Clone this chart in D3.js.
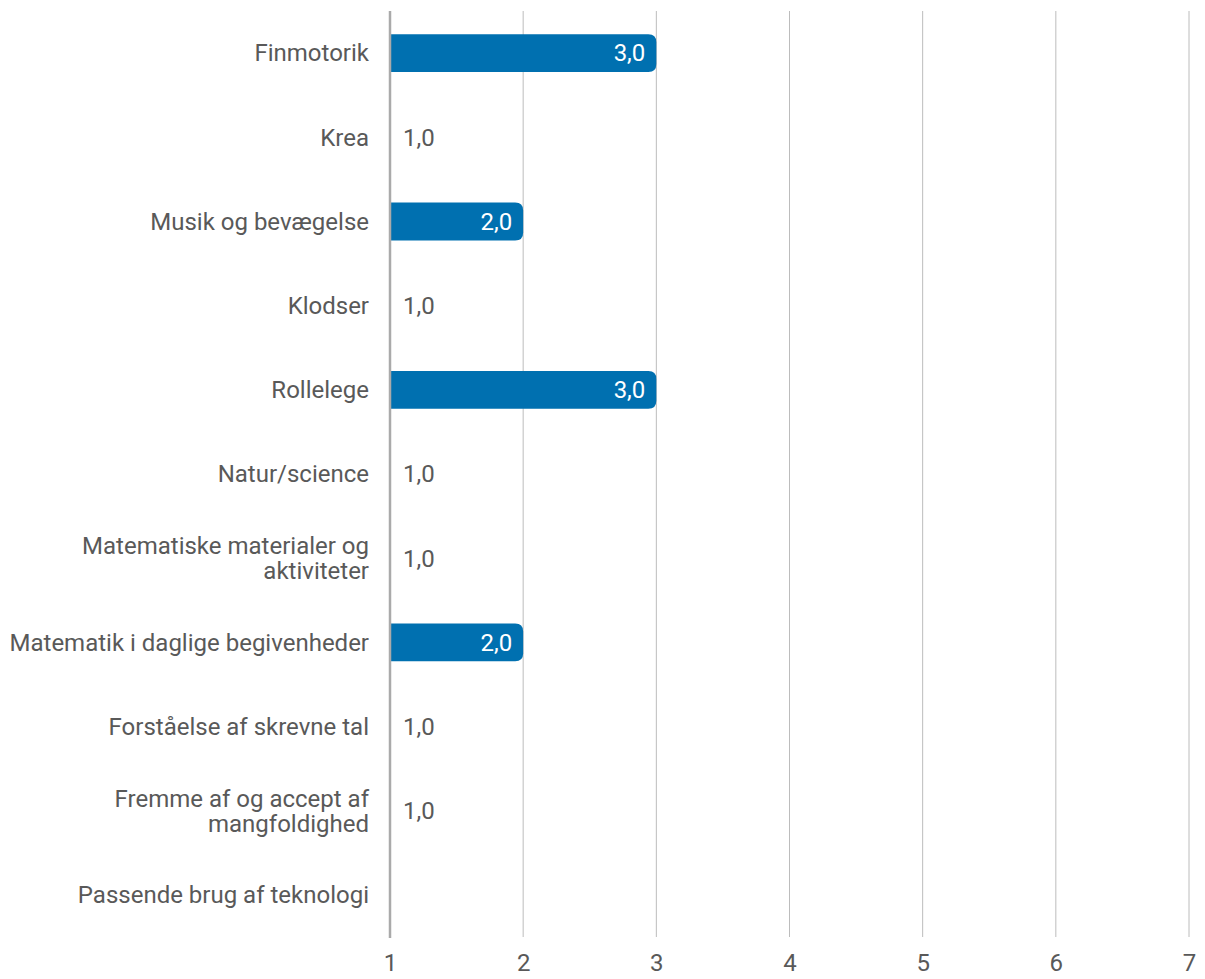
<!DOCTYPE html>
<html><head><meta charset="utf-8">
<script src="https://cdn.jsdelivr.net/npm/d3@7"></script>
<style>body{margin:0;background:#fff;} text{font-family:Roboto,"Noto Sans",sans-serif;}</style>
</head><body>
<svg id="c" width="1205" height="979"></svg>
<script>
const categories = [
  ["Finmotorik"],
  ["Krea"],
  ["Musik og bevægelse"],
  ["Klodser"],
  ["Rollelege"],
  ["Natur/science"],
  ["Matematiske materialer og", "aktiviteter"],
  ["Matematik i daglige begivenheder"],
  ["Forståelse af skrevne tal"],
  ["Fremme af og accept af", "mangfoldighed"],
  ["Passende brug af teknologi"]
];
const values = [3, 1, 2, 1, 3, 1, 1, 2, 1, 1, null];
const xTicks = [1, 2, 3, 4, 5, 6, 7];

(function() {
const svg = d3.select("#c");
const pL = 390, pR = 1189, pT = 11, pB = 937;
const FS = 24, TXT = "#595959";
const x = d3.scaleLinear().domain([1, 7]).range([pL, pR]);
const y = d3.scaleBand().domain(d3.range(categories.length)).range([pT, pB]).paddingInner(0.55).paddingOuter(0.275);

// gridlines
svg.append("g").selectAll("line").data(xTicks.slice(1)).join("line")
  .attr("x1", d => x(d)).attr("x2", d => x(d)).attr("y1", pT).attr("y2", pB)
  .attr("stroke", "#bcbcbc").attr("stroke-width", 1);

// x tick labels via axis
const xAxis = d3.axisBottom(x).tickValues(xTicks).tickSize(0).tickPadding(17).tickFormat(d3.format("d"));
const gx = svg.append("g").attr("transform", `translate(0,${pB})`).call(xAxis);
gx.select(".domain").remove();
gx.selectAll("text").attr("font-size", FS).attr("fill", TXT).attr("font-family", "Roboto");

// bars
const fmt = v => d3.format(".1f")(v).replace(".", ",");
const barG = svg.append("g");
values.forEach((v, i) => {
  if (v == null) return;
  const y0 = y(i), h = y.bandwidth();
  const x0 = x(1) + 1, x1 = x(v);
  const w = x1 - x0;
  const yc = y0 + h / 2;
  if (w > 0) {
    const r = 8;
    const p = `M${x0},${y0}H${x1 - r}Q${x1},${y0} ${x1},${y0 + r}V${y0 + h - r}Q${x1},${y0 + h} ${x1 - r},${y0 + h}H${x0}Z`;
    barG.append("path").attr("d", p).attr("fill", "#0070b0");
    barG.append("text").attr("x", x1 - 11).attr("y", yc).attr("dy", "0.35em")
      .attr("text-anchor", "end").attr("font-size", FS).attr("fill", "#fff").text(fmt(v));
  } else {
    barG.append("text").attr("x", x(1) + 13).attr("y", yc).attr("dy", "0.35em")
      .attr("text-anchor", "start").attr("font-size", FS).attr("fill", TXT).text(fmt(v));
  }
});

// axis line
svg.append("line").attr("x1", pL).attr("x2", pL).attr("y1", pT).attr("y2", pB + 1)
  .attr("stroke", "#aaaaaa").attr("stroke-width", 2.5);

// category labels
const yAxis = d3.axisLeft(y).tickSize(0).tickPadding(21).tickFormat(() => "");
const gy = svg.append("g").attr("transform", `translate(${pL},0)`).call(yAxis);
gy.select(".domain").remove();
gy.selectAll(".tick text").each(function(i) {
  const t = d3.select(this);
  const lines = categories[i];
  t.attr("font-size", FS).attr("fill", TXT).attr("text-anchor", "end").attr("dy", null);
  const lh = 25;
  lines.forEach((ln, k) => {
    t.append("tspan").attr("x", -21).attr("y", (k - (lines.length - 1) / 2) * lh).attr("dy", "0.35em").text(ln);
  });
});
})();
</script>
</body></html>
